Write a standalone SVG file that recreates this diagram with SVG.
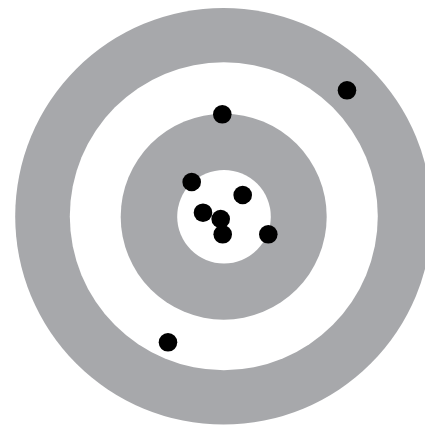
<svg xmlns="http://www.w3.org/2000/svg" width="425" height="425" viewBox="0 0 425 425">
<style>
.g{fill:#a7a8ab}
.w{fill:#ffffff}
.d{fill:#000000}
</style>
<rect width="425" height="425" fill="#ffffff"/>
<g id="target">
<circle class="g" cx="223.5" cy="216.3" r="208.3"/>
<circle class="w" cx="223.8" cy="216.2" r="154"/>
<circle class="g" cx="223.7" cy="216.7" r="103"/>
<circle class="w" cx="224" cy="216.7" r="46.8"/>
</g>
<g id="hits">
<circle class="d" cx="347" cy="90.3" r="9.3"/>
<circle class="d" cx="222.3" cy="114.3" r="9.3"/>
<circle class="d" cx="191.7" cy="182" r="9.3"/>
<circle class="d" cx="242.7" cy="195" r="9.3"/>
<circle class="d" cx="203" cy="212.7" r="9.3"/>
<circle class="d" cx="220.7" cy="219" r="9.3"/>
<circle class="d" cx="222.7" cy="234.3" r="9.3"/>
<circle class="d" cx="268.3" cy="234.3" r="9.3"/>
<circle class="d" cx="168" cy="342.3" r="9.3"/>
</g>
</svg>
